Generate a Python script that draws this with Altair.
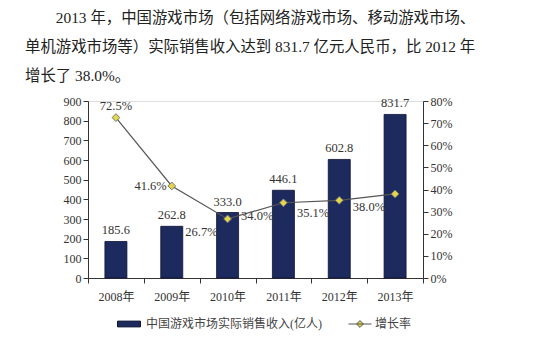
import altair as alt
import pandas as pd

years = ["2008年", "2009年", "2010年", "2011年", "2012年", "2013年"]
revenue = [185.6, 262.8, 333.0, 446.1, 602.8, 831.7]
growth_pct = [72.5, 41.6, 26.7, 34.0, 35.1, 38.0]
bar_name = "中国游戏市场实际销售收入(亿人)"
line_name = "增长率"
title_lines = [
    "\u200b\u3000\u30002013 年，中国游戏市场（包括网络游戏市场、移动游戏市场、",
    "单机游戏市场等）实际销售收入达到 831.7 亿元人民币，比 2012 年",
    "增长了 38.0%。",
]

df = pd.DataFrame({
    "year": years,
    "revenue": revenue,
    "growth": [g / 100 for g in growth_pct],
    "series": bar_name,
    "lseries": line_name,
})

SERIF = "Liberation Serif, Noto Sans CJK SC"
NAVY = "#1c2a5e"
YELLOW = "#e3d64a"
LINE = "#555555"

axis_style = dict(labelFont=SERIF, labelFontSize=12, labelColor="#333",
                  domainColor="#333", tickColor="#333", tickSize=5, grid=False)

x = alt.X("year:N", sort=years, title=None,
          scale=alt.Scale(paddingInner=0, paddingOuter=0),
          axis=alt.Axis(labelAngle=0, tickBand="extent", labelPadding=8, **axis_style))

yl = alt.Y("revenue:Q", title=None,
           scale=alt.Scale(domain=[0, 900], nice=False),
           axis=alt.Axis(values=list(range(0, 901, 100)), orient="left", **axis_style))
yr = alt.Y("growth:Q", title=None,
           scale=alt.Scale(domain=[0, 0.8], nice=False),
           axis=alt.Axis(format=".0%", values=[i / 10 for i in range(9)], orient="right", **axis_style))

base = alt.Chart(df)

bars = base.mark_bar(size=22, stroke="#0d1333", strokeWidth=0.8).encode(
    x=x, y=yl,
    color=alt.Color("series:N", title=None,
                    scale=alt.Scale(domain=[bar_name], range=[NAVY]),
                    legend=alt.Legend(
                        orient="none", legendX=29, legendY=211,
                        symbolSize=529, labelOffset=5, labelLimit=400,
                        labelFont=SERIF, labelFontSize=12, labelColor="#444",
                        symbolType="M-1,-0.25H1V0.25H-1Z",
                        symbolStrokeColor="#0d1333", symbolStrokeWidth=1,
                    )),
)

bar_text = base.mark_text(baseline="bottom", dy=-4, font=SERIF, fontSize=12.5, color="#333").encode(
    x=x, y=yl, text=alt.Text("revenue:Q", format=".1f"),
)

line = base.mark_line(strokeWidth=1.2).encode(
    x=x, y=yr,
    stroke=alt.Stroke("lseries:N", title=None,
                      scale=alt.Scale(domain=[line_name], range=[LINE]),
                      legend=alt.Legend(
                          orient="none", legendX=260, legendY=211,
                          symbolSize=529, labelOffset=3,
                          labelFont=SERIF, labelFontSize=12, labelColor="#444",
                          symbolType="M-1,0H1M0,-0.3L0.3,0L0,0.3L-0.3,0Z",
                          symbolFillColor=YELLOW, symbolStrokeWidth=1,
                      )),
)
pts = base.mark_point(shape="diamond", filled=True, size=60, fill=YELLOW,
                      stroke="#777777", strokeWidth=1, opacity=1).encode(x=x, y=yr)

lab_top = base.mark_text(baseline="bottom", dy=-5, font=SERIF, fontSize=12.5, color="#333").encode(
    x=x, y=yr, text=alt.Text("growth:Q", format=".1%")
).transform_filter(alt.FieldOneOfPredicate(field="year", oneOf=["2008年"]))

lab_left = base.mark_text(align="right", baseline="middle", dx=-5, font=SERIF, fontSize=12.5, color="#333").encode(
    x=x, y=yr, text=alt.Text("growth:Q", format=".1%")
).transform_filter(alt.FieldOneOfPredicate(field="year", oneOf=["2009年"]))

lab_low = base.mark_text(align="right", baseline="middle", dx=-10, dy=13, font=SERIF, fontSize=12.5, color="#333").encode(
    x=x, y=yr, text=alt.Text("growth:Q", format=".1%")
).transform_filter(alt.FieldOneOfPredicate(field="year", oneOf=["2010年", "2011年", "2012年", "2013年"]))

left = alt.layer(bars, bar_text)
right = alt.layer(line, pts, lab_top, lab_left, lab_low)

chart = alt.layer(left, right).resolve_scale(y="independent").properties(
    width=335, height=177,
    autosize=alt.AutoSizeParams(type="none"),
    padding={"left": 88, "top": 101, "right": 117, "bottom": 66},
    title=alt.TitleParams(text=title_lines, anchor="start", frame="group", dx=-63,
                          font=SERIF, fontSize=15.4, fontWeight="normal", color="#222",
                          lineHeight=29, offset=11),
).configure_view(stroke="#888888", strokeWidth=1).configure(background="white")

chart.save("out.html", embed_options={"renderer": "svg", "actions": False})
